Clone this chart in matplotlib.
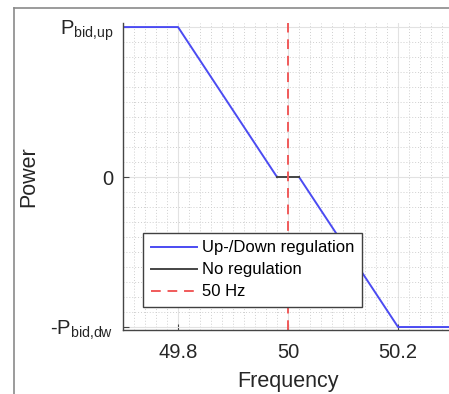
import matplotlib
matplotlib.use("Agg")
import matplotlib.pyplot as plt
from matplotlib.ticker import MultipleLocator
from matplotlib.lines import Line2D

plt.rcParams['font.family'] = ['Liberation Sans', 'DejaVu Sans']
plt.rcParams['mathtext.fontset'] = 'custom'
plt.rcParams['mathtext.rm'] = 'Liberation Sans'
plt.rcParams['mathtext.it'] = 'Liberation Sans'

# droop characteristic (frequency in Hz, power normalised to bid)
freq_up = [49.70, 49.80, 49.98]
power_up = [1, 1, 0]
freq_dead = [49.98, 50.02]
power_dead = [0, 0]
freq_dw = [50.02, 50.20, 50.30]
power_dw = [0, -1, -1]
nominal_freq = 50

x_ticks = [49.8, 50, 50.2]
x_tick_labels = ['49.8', '50', '50.2']
y_ticks = [-1, 0, 1]
y_tick_labels = [r'-$\mathregular{P_{bid{,}dw}}$', '0', r'$\mathregular{P_{bid{,}up}}$']

blue = '#4b4bf2'
red = '#f05a5a'
dark = '#454545'

fig = plt.figure(figsize=(4.49, 3.94), dpi=100)
ax = fig.add_axes([0.274, 0.1624, 0.735, 0.7792])

ax.plot(freq_up, power_up, color=blue, lw=1.4)
ax.plot(freq_dw, power_dw, color=blue, lw=1.4)
ax.plot(freq_dead, power_dead, color=dark, lw=1.4)
ax.axvline(nominal_freq, color=red, lw=1.4, ls=(0, (5, 3.5)))

ax.set_xlim(49.7, 50.3)
ax.set_ylim(-1.02, 1.027)
ax.set_xticks(x_ticks)
ax.set_xticklabels(x_tick_labels)
ax.set_yticks(y_ticks)
ax.set_yticklabels(y_tick_labels)
ax.xaxis.set_minor_locator(MultipleLocator(0.02))
ax.yaxis.set_minor_locator(MultipleLocator(0.1))

ax.grid(True, which='major', color='#e2e2e2', lw=0.8)
ax.grid(True, which='minor', color='#cfcfcf', lw=0.7, ls=(0, (1, 2)))
ax.set_axisbelow(True)

ax.tick_params(which='major', direction='in', length=4, width=0.8,
               colors=dark, labelsize=14.5, labelcolor='#262626')
ax.tick_params(axis='x', pad=9)
ax.tick_params(axis='y', pad=7)
ax.tick_params(which='minor', length=0)

for s in ['top', 'right']:
    ax.spines[s].set_visible(False)
for s in ['left', 'bottom']:
    ax.spines[s].set_color(dark)
    ax.spines[s].set_linewidth(1.0)

ax.set_xlabel('Frequency', fontsize=15.5, color='#262626', labelpad=7)
ax.set_ylabel('Power', fontsize=15.5, color='#262626', labelpad=8)

handles = [Line2D([], [], color=blue, lw=1.4),
           Line2D([], [], color=dark, lw=1.4),
           Line2D([], [], color=red, lw=1.4, ls=(0, (5, 3.5)))]
leg = ax.legend(handles, ['Up-/Down regulation', 'No regulation', '50 Hz'],
                loc='lower left', bbox_to_anchor=(0.0606, 0.075),
                fontsize=12, frameon=True, fancybox=False, handlelength=2.8,
                handletextpad=0.3, labelspacing=0.42, borderpad=0.45,
                borderaxespad=0)
leg.get_frame().set_edgecolor('#404040')
leg.get_frame().set_linewidth(1.0)
leg.get_frame().set_alpha(1)

# screenshot frame
fig.add_artist(Line2D([14 / 449, 1], [1 - 8 / 394, 1 - 8 / 394],
                      transform=fig.transFigure, color='#8a8a8a', lw=1.2))
fig.add_artist(Line2D([14 / 449, 14 / 449], [0, 1 - 8 / 394],
                      transform=fig.transFigure, color='#8a8a8a', lw=1.2))

fig.savefig('out.png', dpi=100)
